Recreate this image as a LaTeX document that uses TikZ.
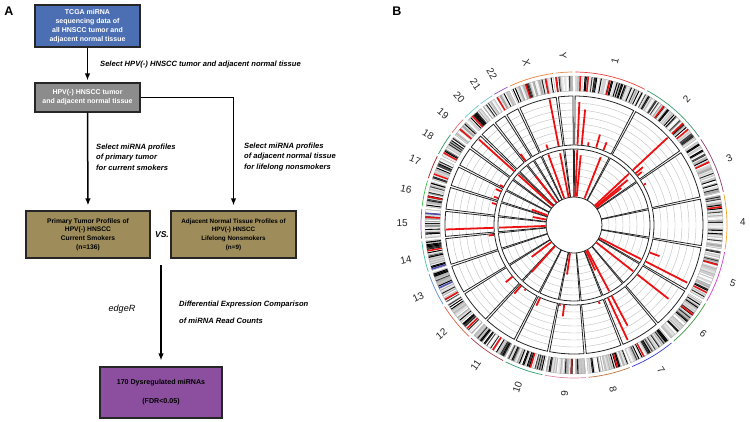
\documentclass[tikz,border=0pt]{standalone}
\usepackage{fontspec}
\setmainfont{Liberation Sans}
\usetikzlibrary{arrows.meta}
\definecolor{bxblue}{HTML}{4C6FB3}
\definecolor{bxgray}{HTML}{8C8C8C}
\definecolor{bxolive}{HTML}{9E8D5B}
\definecolor{bxpurple}{HTML}{8C4F9F}
\definecolor{k1}{HTML}{E8413C}\definecolor{k2}{HTML}{3D9970}\definecolor{k3}{HTML}{8E3B6E}
\definecolor{k4}{HTML}{F0A020}\definecolor{k5}{HTML}{D040D0}\definecolor{k6}{HTML}{3B9B3B}
\definecolor{k7}{HTML}{3A3AD0}\definecolor{k8}{HTML}{C0703A}\definecolor{k9}{HTML}{E08AA8}
\definecolor{k10}{HTML}{30A070}\definecolor{k11}{HTML}{A04050}\definecolor{k12}{HTML}{E06040}
\definecolor{k13}{HTML}{6090D0}\definecolor{k14}{HTML}{40C0A0}\definecolor{k15}{HTML}{A050D0}
\definecolor{k16}{HTML}{40C040}\definecolor{k17}{HTML}{A02020}\definecolor{k18}{HTML}{309060}
\definecolor{k19}{HTML}{E07070}\definecolor{k20}{HTML}{60D0C0}\definecolor{k21}{HTML}{80C0E0}
\definecolor{k22}{HTML}{9050C0}\definecolor{kX}{HTML}{F08040}\definecolor{kY}{HTML}{E09050}
\definecolor{barred}{HTML}{EE1111}
\tikzset{
  box/.style={draw=black!85, line width=1.1pt, align=center, inner sep=0pt},
  btext/.style={font=\bfseries\fontsize{7}{9}\selectfont},
  lab/.style={font=\bfseries\itshape\fontsize{7.6}{10.5}\selectfont, align=left, inner sep=0pt},
  arr/.style={line width=1.5pt, -{Latex[length=7pt,width=5.5pt]}},
  panel/.style={font=\bfseries\fontsize{12.5}{14}\selectfont, inner sep=0pt},
  gridl/.style={gray!50, line width=0.4pt},
  trk/.style={black!85, line width=0.8pt},
  chrlab/.style={font=\fontsize{10}{12}\selectfont, text=black!85, inner sep=0pt},
  redbar/.style={barred, line width=1.8pt}
}
\begin{document}
\begin{tikzpicture}[x=1pt,y=-1pt]
\fill[white] (0,0) rectangle (750,421);
\useasboundingbox (0,0) rectangle (750,421);

% ---------- Panel A ----------
\node[panel] (pa) at (9,11) {A};
\node[box, btext, fill=bxblue, text=white, minimum width=105pt, minimum height=42pt] (b1) at (87.5,26)
  {TCGA miRNA\\sequencing data of\\all HNSCC tumor and\\adjacent normal tissue};
\node[box, btext, fill=bxgray, text=white, minimum width=105pt, minimum height=29pt] (b2) at (87.5,97.5)
  {HPV(-) HNSCC tumor\\and adjacent normal tissue};
\node[box, font=\bfseries\fontsize{6.7}{8.7}\selectfont, fill=bxolive, minimum width=124pt, minimum height=47pt] (b3) at (88,234.5)
  {Primary Tumor Profiles of\\HPV(-) HNSCC\\Current Smokers\\(n=136)};
\node[box, font=\bfseries\fontsize{6.3}{8.7}\selectfont, fill=bxolive, minimum width=125pt, minimum height=47pt] (b4) at (233.5,234.5)
  {Adjacent Normal Tissue Profiles of\\HPV(-) HNSCC\\Lifelong Nonsmokers\\(n=9)};
\node[box, font=\bfseries\fontsize{7.1}{19}\selectfont, fill=bxpurple, minimum width=122pt, minimum height=51pt] (b5) at (161,392.5)
  {170 Dysregulated miRNAs\\(FDR<0.05)};
\node[font=\bfseries\itshape\fontsize{8.5}{10}\selectfont, inner sep=0pt] (vs) at (162,235) {VS.};
\node[lab, anchor=west] (l1) at (100,65) {Select HPV(-) HNSCC tumor and adjacent normal tissue};
\node[lab, anchor=west] (l2) at (96,157) {Select miRNA profiles\\of primary tumor\\for current smokers};
\node[lab, anchor=west] (l3) at (244,157) {Select miRNA profiles\\of adjacent normal tissue\\for lifelong nonsmokers};
\node[font=\itshape\fontsize{9}{11}\selectfont, inner sep=0pt] (ed) at (122,309) {edgeR};
\node[lab, anchor=west, font=\bfseries\itshape\fontsize{7.6}{17}\selectfont] (l4) at (179,312.5) {Differential Expression Comparison\\of miRNA Read Counts};
\coordinate (vsb) at (161,265);

\draw[arr, shorten >=2pt] (b1.south) -- (b2.north);
\draw[arr, shorten >=5pt] (b2.south) -- (b3.north);
\draw[arr, shorten >=5pt] (b2.east) -| (b4.north);
\draw[arr, shorten >=6pt] (vsb) -- (b5.north);

% ---------- Panel B ----------
\node[panel] (pb) at (397,11) {B};
\begin{scope}[shift={(574,225)}]
\pgfmathsetseed{4242}
\foreach \s/\e/\col/\nm in {0.5/27.55/k1/1, 28.55/54.95/k2/2, 55.95/77.44/k3/3, 78.44/99.19/k4/4,
  100.19/119.83/k5/5, 120.83/139.40/k6/6, 140.40/157.67/k7/7, 158.67/174.56/k8/8,
  175.56/190.89/k9/9, 191.89/206.60/k10/10, 207.60/222.25/k11/11, 223.25/237.78/k12/12,
  238.78/251.28/k13/13, 252.28/263.93/k14/14, 264.93/276.06/k15/15, 277.06/286.87/k16/16,
  287.87/296.68/k17/17, 297.68/306.16/k18/18, 307.16/313.58/k19/19, 314.58/321.42/k20/20,
  322.42/327.64/k21/21, 328.64/334.21/k22/22, 335.21/352.07/kX/X, 353.07/359.52/kY/Y}{
  \pgfmathsetmacro\aS{90-\s}
  \pgfmathsetmacro\aE{90-\e}
  \pgfmathsetmacro\mm{(\s+\e)/2}
  \pgfmathsetmacro\am{90-\mm}
  % ideogram background
  \fill[gray!30] (\aS:134pt) arc[start angle=\aS,end angle=\aE,radius=134pt] -- (\aE:149pt) arc[start angle=\aE,end angle=\aS,radius=149pt] -- cycle;
  \pgfmathsetmacro\sB{\s+0.45}
  \pgfmathsetmacro\eB{\e-0.45}
  \foreach \t in {\s,\sB,...,\eB}{
    \pgfmathrandominteger{\kk}{0}{13}
    \pgfmathsetmacro\tA{90-\t}
    \pgfmathsetmacro\tB{90-\t-0.46}
    \ifcase\kk\relax \def\bc{white}\or \def\bc{gray!20}\or \def\bc{gray!35}\or \def\bc{black}\or
      \def\bc{gray!55}\or \def\bc{gray!70}\or \def\bc{black!85}\or \def\bc{gray!15}\or
      \def\bc{black}\or \def\bc{gray!45}\or \def\bc{gray!25}\or \def\bc{white}\or
      \def\bc{black!75}\or \def\bc{gray!60}\fi
    \fill[\bc] (\tA:134pt) -- (\tA:149pt) -- (\tB:149pt) -- (\tB:134pt) -- cycle;
  }
  \draw[gray!70, line width=0.3pt] (\aS:134pt) arc[start angle=\aS,end angle=\aE,radius=134pt] -- (\aE:149pt) arc[start angle=\aE,end angle=\aS,radius=149pt] -- cycle;
  % coloured outer arc
  \draw[\col, line width=0.7pt] (\aS:153pt) arc[start angle=\aS,end angle=\aE,radius=153pt];
  % grid lines
  \foreach \r in {87,94,101,108,115,122}
    \draw[gridl] (\aS:\r pt) arc[start angle=\aS,end angle=\aE,radius=\r pt];
  \foreach \r in {35,42,49,56,63,70}
    \draw[gridl] (\aS:\r pt) arc[start angle=\aS,end angle=\aE,radius=\r pt];
  % track outlines
  \draw[trk] (\aS:80pt) arc[start angle=\aS,end angle=\aE,radius=80pt] -- (\aE:129pt) arc[start angle=\aE,end angle=\aS,radius=129pt] -- cycle;
  \draw[trk] (\aS:28pt) arc[start angle=\aS,end angle=\aE,radius=28pt] -- (\aE:76pt) arc[start angle=\aE,end angle=\aS,radius=76pt] -- cycle;
  % label
  \pgfmathtruncatemacro\side{\mm<180 ? 1 : 0}
  \ifnum\side=1
    \pgfmathsetmacro\rot{90-\mm}
    \node[chrlab, rotate=\rot, anchor=west] (c\nm) at (\am:166pt) {\nm};
  \else
    \pgfmathsetmacro\rot{270-\mm}
    \node[chrlab, rotate=\rot, anchor=east] (c\nm) at (\am:166pt) {\nm};
  \fi
}
% red and blue ideogram bands
\foreach \t in {2.5,5.5,14,37,47,50,65,83,105.5,117,127,152,163,181,197,213,226,240,260,273,281,290,299,310,317,329,341,349,353}{
  \pgfmathsetmacro\tA{90-\t+0.3}
  \pgfmathsetmacro\tB{90-\t-0.3}
  \fill[barred] (\tA:134pt) -- (\tA:149pt) -- (\tB:149pt) -- (\tB:134pt) -- cycle;
}
\foreach \t in {245,252.8,274.5}{
  \pgfmathsetmacro\tA{90-\t+0.3}
  \pgfmathsetmacro\tB{90-\t-0.3}
  \fill[blue!40!gray] (\tA:134pt) -- (\tA:149pt) -- (\tB:149pt) -- (\tB:134pt) -- cycle;
}
% outer track bars
\foreach \t/\r in {2.5/123, 5.5/116, 10/84, 16/94, 21.5/89, 47/128, 50/90, 52/86, 60/83,
  110/91, 117/127, 128/120, 152/114, 155/127, 162/83, 187/92, 190/82, 205/89, 217/82, 221/91,
  230/89, 263/86, 268/128, 285/85, 289.5/85, 294.7/86, 298.4/84, 312/128, 323/89, 341/85, 349/128}{
  \pgfmathsetmacro\tA{90-\t}
  \draw[redbar] (\tA:80.5pt) -- (\tA:\r pt);
}
% inner track bars
\foreach \t/\r in {2.5/75, 5.5/70, 21.5/73, 47/75, 50/70, 52/60, 117/75, 128/75, 152/75, 155/50,
  188/50, 222/63, 233/53, 268/75, 281/42, 290/45, 312/75, 322/62, 340/75, 349/73}{
  \pgfmathsetmacro\tA{90-\t}
  \draw[redbar] (\tA:28.5pt) -- (\tA:\r pt);
}
\end{scope}
\end{tikzpicture}
\end{document}
